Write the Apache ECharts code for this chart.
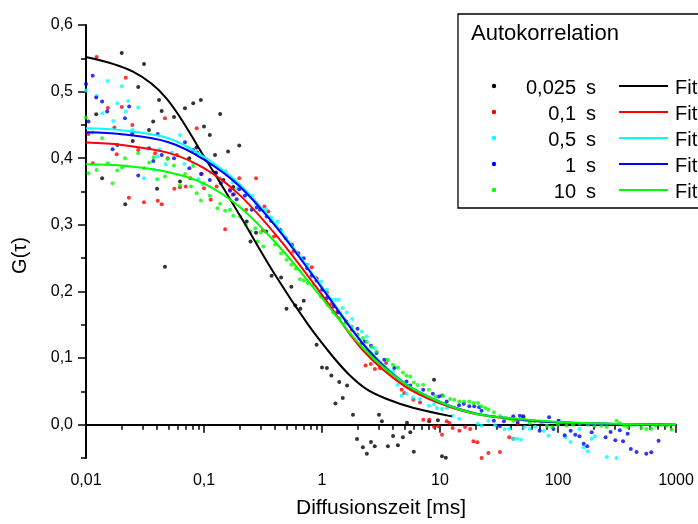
<!DOCTYPE html>
<html>
<head>
<meta charset="utf-8">
<script src="https://cdn.jsdelivr.net/npm/echarts@6/dist/echarts.min.js"></script>
<style>
  html, body { margin: 0; padding: 0; background: #fff; }
  #chart { width: 698px; height: 524px; }
</style>
</head>
<body>
<div id="chart"></div>
<script>
// Messreihen (Diffusionszeit in ms, G(tau))
const seriesNames = ["0,025 s", "0,1 s", "0,5 s", "1 s", "10 s"];
const colors = ["#000000", "#ff0000", "#00ffff", "#0000ff", "#00ff00"];

const data025 = [[0.0122,0.466],[0.0137,0.37],[0.0201,0.558],[0.0215,0.331],[0.0249,0.426],[0.0277,0.507],[0.031,0.5415],[0.0342,0.4425],[0.0371,0.455],[0.04,0.354],[0.0416,0.4875],[0.0438,0.471],[0.0467,0.237],[0.0557,0.462],[0.0626,0.365],[0.069,0.475],[0.075,0.40],[0.081,0.4825],[0.0865,0.416],[0.094,0.4875],[0.1,0.4475],[0.112,0.435],[0.124,0.405],[0.126,0.378],[0.137,0.4665],[0.146,0.3675],[0.16,0.41],[0.177,0.357],[0.199,0.419],[0.23,0.305],[0.248,0.275],[0.276,0.288],[0.336,0.29],[0.374,0.2235],[0.45,0.221],[0.50,0.174],[0.55,0.207],[0.594,0.179],[0.655,0.174],[0.70,0.186],[0.90,0.12],[1.0,0.086],[1.1,0.085],[1.2,0.074],[1.3,0.032],[1.4,0.064],[1.5,0.04],[1.63,0.059],[1.83,0.015],[1.98,-0.0215],[2.22,-0.034],[2.40,-0.0438],[2.6,-0.026],[2.8,-0.0325],[3.04,0.015],[3.22,0.005],[3.62,-0.0325],[4.0,-0.017],[4.4,-0.031],[4.85,-0.019],[5.25,0.003],[5.6,-0.0115],[6.0,-0.0405],[8.1,0.005],[8.9,0.0675],[9.6,0.0065],[10.4,-0.0475],[11.2,-0.0495]];

const data01 = [[0.0105,0.4365],[0.0114,0.3925],[0.0123,0.552],[0.0153,0.4755],[0.0174,0.446],[0.0182,0.406],[0.0201,0.477],[0.0217,0.521],[0.0231,0.3405],[0.0247,0.45],[0.0277,0.4125],[0.031,0.3338],[0.0385,0.4075],[0.0405,0.336],[0.0438,0.331],[0.0467,0.46],[0.0492,0.4],[0.056,0.354],[0.059,0.405],[0.0626,0.3563],[0.07,0.3575],[0.0766,0.37],[0.0867,0.445],[0.0957,0.3765],[0.1,0.355],[0.114,0.3375],[0.128,0.3575],[0.151,0.2935],[0.166,0.3525],[0.175,0.345],[0.199,0.37],[0.228,0.3225],[0.276,0.37],[0.315,0.2915],[0.325,0.3275],[0.351,0.32],[0.392,0.2825],[0.571,0.26],[0.741,0.24],[0.818,0.2365],[0.90,0.22],[1.10,0.1985],[1.21,0.1815],[1.35,0.17],[1.60,0.155],[1.79,0.1425],[2.0,0.135],[2.17,0.1225],[2.34,0.089],[2.59,0.091],[2.81,0.0835],[3.1,0.085],[3.49,0.0925],[4.73,0.0525],[4.98,0.0475],[5.94,0.0375],[6.77,0.0335],[7.22,0.0075],[8.12,0.0075],[8.9,-0.003],[9.68,-0.0025],[10.4,-0.015],[11.4,0.005],[12.0,0.0025],[12.8,-0.005],[14.6,-0.009],[16.3,-0.0035],[18,-0.0065],[19.2,-0.025],[20.7,-0.0265],[22.5,-0.05],[25.7,-0.0425],[32.2,-0.041],[38.6,-0.0188],[41.8,-0.021],[45.5,0.0015],[50.8,0.011]];

const data05 = [[0.01,0.5015],[0.0123,0.4935],[0.0138,0.4675],[0.0153,0.516],[0.017,0.456],[0.0184,0.4825],[0.0201,0.508],[0.0217,0.47],[0.0228,0.486],[0.0247,0.4425],[0.0277,0.476],[0.031,0.37],[0.0377,0.3825],[0.0405,0.4025],[0.0418,0.4135],[0.0473,0.391],[0.0532,0.4085],[0.0626,0.435],[0.0682,0.3915],[0.0751,0.415],[0.081,0.3925],[0.0894,0.369],[0.0976,0.361],[0.114,0.3785],[0.137,0.37],[0.153,0.3805],[0.175,0.3635],[0.191,0.355],[0.228,0.345],[0.258,0.3435],[0.276,0.3315],[0.336,0.3235],[0.37,0.3115],[0.42,0.305],[0.45,0.2915],[0.56,0.2675],[0.76,0.24],[0.98,0.215],[1.1,0.2025],[1.21,0.1875],[1.31,0.1875],[1.39,0.1875],[1.5,0.175],[1.62,0.1685],[1.8,0.1585],[2.17,0.14],[2.4,0.1325],[2.8,0.115],[3.6,0.0965],[4.0,0.08],[4.38,0.06],[4.73,0.0435],[5.2,0.0465],[5.9,0.041],[6.75,0.0385],[8.05,0.0285],[8.9,0.031],[9.4,0.025],[10.4,0.0235],[11.4,0.025],[12.8,0.0135],[14.5,0.009],[20.9,0.0015],[22.5,-0.0015],[25.7,0.006],[29.3,-0.001],[35.3,-0.0065],[38.6,-0.006],[41.8,-0.0215],[45,-0.021],[48.5,-0.0225],[51.9,-0.004],[57.7,-0.0065],[64,-0.0035],[75.8,-0.0095],[83.3,-0.0165],[102,0.006],[115,-0.019],[128,-0.026],[152,-0.0065],[165,-0.034],[179,-0.04],[193,-0.021],[205,-0.0175],[259,-0.0485],[313,-0.05]];

const data1 = [[0.01,0.5115],[0.0105,0.455],[0.0114,0.524],[0.0122,0.491],[0.0137,0.485],[0.0151,0.47],[0.0168,0.4135],[0.0184,0.42],[0.0214,0.46],[0.0232,0.4775],[0.0247,0.4375],[0.0277,0.374],[0.0342,0.415],[0.0372,0.396],[0.0405,0.4365],[0.0438,0.405],[0.0557,0.4],[0.069,0.424],[0.0751,0.385],[0.081,0.4125],[0.0876,0.4085],[0.0944,0.3765],[0.112,0.3675],[0.126,0.3785],[0.139,0.3625],[0.166,0.351],[0.179,0.346],[0.189,0.3385],[0.199,0.3535],[0.222,0.3435],[0.254,0.3225],[0.28,0.326],[0.298,0.3225],[0.34,0.3125],[0.37,0.306],[0.44,0.2925],[0.494,0.28],[0.556,0.27],[0.63,0.2575],[0.70,0.25],[0.75,0.235],[0.82,0.2235],[0.90,0.2165],[1.0,0.2025],[1.1,0.19],[1.26,0.1775],[1.37,0.1685],[1.6,0.155],[2.0,0.144],[2.3,0.125],[2.6,0.1185],[2.9,0.1075],[3.37,0.0975],[4.1,0.085],[5.2,0.065],[5.6,0.059],[7.2,0.0525],[8.7,0.0465],[9.8,0.0425],[10.4,0.044],[11.4,0.035],[14.5,0.029],[15.9,0.0315],[17.7,0.0275],[19.5,0.0275],[21.5,0.026],[22.5,0.021],[28.6,0.006],[32.2,-0.0025],[34.8,0.005],[41.8,0.0125],[45.5,0.004],[47.5,0.0135],[50.8,0.0125],[69.9,-0.009],[84,0.011],[91.5,-0.0065],[101,0.006],[114,-0.016],[128,-0.009],[140,-0.015],[152,-0.0175],[165,-0.0285],[177,-0.0325],[193,-0.0115],[253,-0.019],[279,-0.011],[306,-0.0235],[334,-0.0085],[356,-0.025],[389,-0.0135],[414,-0.0365],[463,-0.041],[560,-0.0435],[617,-0.0415],[712,-0.024]];

const data10 = [[0.01,0.461],[0.0105,0.3775],[0.0114,0.4385],[0.0123,0.3825],[0.0137,0.43],[0.0153,0.3925],[0.0168,0.3625],[0.0184,0.3815],[0.0202,0.386],[0.0214,0.4],[0.0277,0.4075],[0.031,0.385],[0.0343,0.3935],[0.0374,0.4015],[0.0401,0.3685],[0.0467,0.3725],[0.0492,0.399],[0.0557,0.389],[0.0626,0.359],[0.069,0.3765],[0.0775,0.3575],[0.081,0.3885],[0.0865,0.3475],[0.094,0.3365],[0.1,0.3625],[0.112,0.3435],[0.13,0.325],[0.137,0.3315],[0.151,0.321],[0.166,0.3225],[0.177,0.3135],[0.202,0.3125],[0.226,0.3],[0.248,0.29],[0.272,0.295],[0.284,0.275],[0.302,0.2885],[0.319,0.2675],[0.4,0.27],[0.45,0.2575],[0.50,0.2475],[0.55,0.24],[0.60,0.234],[0.65,0.2185],[0.70,0.2165],[0.76,0.2125],[0.84,0.21],[0.98,0.1925],[1.11,0.18],[1.24,0.1685],[1.42,0.16],[1.58,0.1525],[1.79,0.1475],[1.98,0.135],[2.22,0.13],[2.4,0.124],[2.64,0.1165],[2.9,0.11],[3.6,0.0975],[4.0,0.09],[4.4,0.086],[4.85,0.0785],[5.2,0.0735],[5.6,0.0725],[6.0,0.0635],[6.45,0.0595],[7.2,0.06],[8.05,0.0525],[9.2,0.0425],[10.6,0.0435],[12.2,0.0385],[13.2,0.0375],[14.6,0.035],[16,0.035],[17.7,0.035],[19.2,0.0325],[21,0.0325],[22.5,0.0275],[24.2,0.025],[25.7,0.0225],[28.6,0.0185],[32.2,0.0125],[36.3,0.01],[39.2,0.009],[41.8,0.006],[44.6,0.0075],[51.9,0.0075],[57.7,0.0025],[63.4,0.005],[72,0.0035],[80.4,-0.0015],[89.2,-0.004],[100,0],[118,-0.0015],[134,0],[152,0.0015],[179,0],[204,-0.0015],[233,-0.0015],[259,-0.0035],[313,0.006],[334,0.0025],[363,-0.0015],[389,-0.0035],[414,0],[463,0],[510,-0.005],[560,-0.0065],[617,-0.006],[672,-0.0015],[750,0],[830,-0.0015],[920,-0.0075]];

// Fitkurven
const fit025 = [[0.01,0.552],[0.025,0.53],[0.048,0.49],[0.1,0.4025],[0.2,0.315],[0.4,0.225],[0.75,0.152],[1.2,0.105],[1.7,0.075],[2.4,0.053],[3.5,0.039],[6,0.025],[12.6,0.0125]];
const fit01 = [[0.01,0.4235],[0.02,0.42],[0.05,0.408],[0.1,0.385],[0.2,0.345],[0.44,0.2775],[1,0.195],[2.2,0.1125],[5,0.058],[10,0.032],[20,0.016],[50,0.007],[100,0.0035],[300,0.001],[1000,0]];
const fit05 = [[0.01,0.445],[0.02,0.442],[0.05,0.43],[0.1,0.402],[0.2,0.361],[0.44,0.292],[1,0.207],[2.45,0.114],[5,0.063],[10,0.034],[20,0.017],[50,0.0075],[100,0.0035],[300,0.001],[1000,0]];
const fit1 = [[0.01,0.439],[0.02,0.436],[0.05,0.424],[0.1,0.398],[0.2,0.358],[0.44,0.29],[1,0.205],[2.45,0.1125],[5,0.062],[10,0.034],[20,0.017],[50,0.0075],[100,0.0035],[300,0.001],[1000,0]];
const fit10 = [[0.01,0.391],[0.02,0.389],[0.05,0.379],[0.1,0.362],[0.2,0.327],[0.44,0.266],[1,0.19],[2.3,0.1125],[5,0.062],[10,0.034],[20,0.0165],[50,0.008],[100,0.004],[300,0.0015],[1000,0]];

const pointSets = [data025, data01, data05, data1, data10];
const fitSets = [fit025, fit01, fit05, fit1, fit10];

// Achsen
const xMajor = [0.01, 0.1, 1, 10, 100, 1000];
const xLabels = ["0,01", "0,1", "1", "10", "100", "1000"];
const xMinor = [];
[0.01, 0.1, 1, 10, 100].forEach(d => { for (let k = 2; k <= 9; k++) xMinor.push(+(d * k).toPrecision(3)); });
const yMajor = [0, 0.1, 0.2, 0.3, 0.4, 0.5, 0.6];
const yLabels = ["0,0", "0,1", "0,2", "0,3", "0,4", "0,5", "0,6"];
const yMinor = [-0.05, 0.05, 0.15, 0.25, 0.35, 0.45, 0.55];

const font = "Liberation Sans";
const chart = echarts.init(document.getElementById("chart"), null, { renderer: "canvas" });

function xLabelOf(v) {
  const i = xMajor.findIndex(t => Math.abs(Math.log10(t) - Math.log10(v)) < 1e-6);
  return i >= 0 ? xLabels[i] : "";
}
function yLabelOf(v) {
  const i = yMajor.findIndex(t => Math.abs(t - v) < 1e-6);
  return i >= 0 ? yLabels[i] : "";
}

const axisLine = { show: true, lineStyle: { color: "#000", width: 2 } };
const xBase = { type: "log", logBase: 10, min: 0.01, max: 1000, gridIndex: 0, position: "bottom", splitLine: { show: false } };
const yBase = { type: "value", min: -0.05, max: 0.6, gridIndex: 0, position: "left", splitLine: { show: false } };

const series = [];
pointSets.forEach((pts, i) => {
  series.push({
    name: seriesNames[i], type: "scatter", data: pts,
    symbol: "circle", symbolSize: 4,
    itemStyle: { color: colors[i] }, z: 2
  });
});
fitSets.forEach((pts, i) => {
  series.push({
    name: "Fit " + seriesNames[i], type: "line", data: pts,
    showSymbol: false, smooth: 0.35,
    lineStyle: { color: colors[i], width: 2 }, z: 3
  });
});

// Legende als Kasten
const legend = [
  { type: "rect", shape: { x: 458, y: 14, width: 250, height: 194 },
    style: { fill: "#fff", stroke: "#000", lineWidth: 1.3 }, z: 10 },
  { type: "text", x: 471, y: 34, style: { text: "Autokorrelation", font: "22px " + font, fill: "#000", textVerticalAlign: "middle" }, z: 11 }
];
seriesNames.forEach((n, i) => {
  const y = 86 + i * 26;
  legend.push({ type: "circle", shape: { cx: 494, cy: y, r: 2.2 }, style: { fill: colors[i] }, z: 11 });
  legend.push({ type: "text", x: 596, y: y + 2, style: { text: n.replace(" ", "\u2002"), font: "20px " + font, fill: "#000", textAlign: "right", textVerticalAlign: "middle" }, z: 11 });
  legend.push({ type: "line", shape: { x1: 619, y1: y, x2: 668, y2: y }, style: { stroke: colors[i], lineWidth: 2 }, z: 11 });
  legend.push({ type: "text", x: 675, y: y + 2, style: { text: "Fit", font: "20px " + font, fill: "#000", textVerticalAlign: "middle" }, z: 11 });
});

const option = {
  animation: false,
  backgroundColor: "#fff",
  grid: { left: 86, right: 22, top: 25, bottom: 66, containLabel: false },
  xAxis: [
    Object.assign({}, xBase, {
      name: "Diffusionszeit [ms]", nameLocation: "middle", nameGap: 40,
      nameTextStyle: { fontFamily: font, fontSize: 21, color: "#000" },
      axisLine: axisLine,
      axisTick: { show: true, inside: false, length: 8, customValues: xMajor, lineStyle: { color: "#000", width: 1.5 } },
      axisLabel: { show: true, customValues: xMajor, margin: 15, formatter: xLabelOf, fontFamily: font, fontSize: 16, color: "#000" }
    }),
    Object.assign({}, xBase, {
      axisLine: { show: false },
      axisTick: { show: true, inside: false, length: 5, customValues: xMinor, lineStyle: { color: "#000", width: 1.5 } },
      axisLabel: { show: false }
    })
  ],
  yAxis: [
    Object.assign({}, yBase, {
      name: "G(\u03c4)", nameLocation: "middle", nameGap: 56,
      nameTextStyle: { fontFamily: font, fontSize: 20, color: "#000", padding: [0, 28, 0, 0] },
      axisLine: axisLine,
      axisTick: { show: true, inside: false, length: 8, customValues: yMajor, lineStyle: { color: "#000", width: 1.5 } },
      axisLabel: { show: true, customValues: yMajor, margin: 13, formatter: yLabelOf, fontFamily: font, fontSize: 16, color: "#000" }
    }),
    Object.assign({}, yBase, {
      axisLine: { show: false },
      axisTick: { show: true, inside: false, length: 5, customValues: yMinor, lineStyle: { color: "#000", width: 1.5 } },
      axisLabel: { show: false }
    })
  ],
  series: series,
  graphic: legend
};

chart.setOption(option);
</script>
</body>
</html>
